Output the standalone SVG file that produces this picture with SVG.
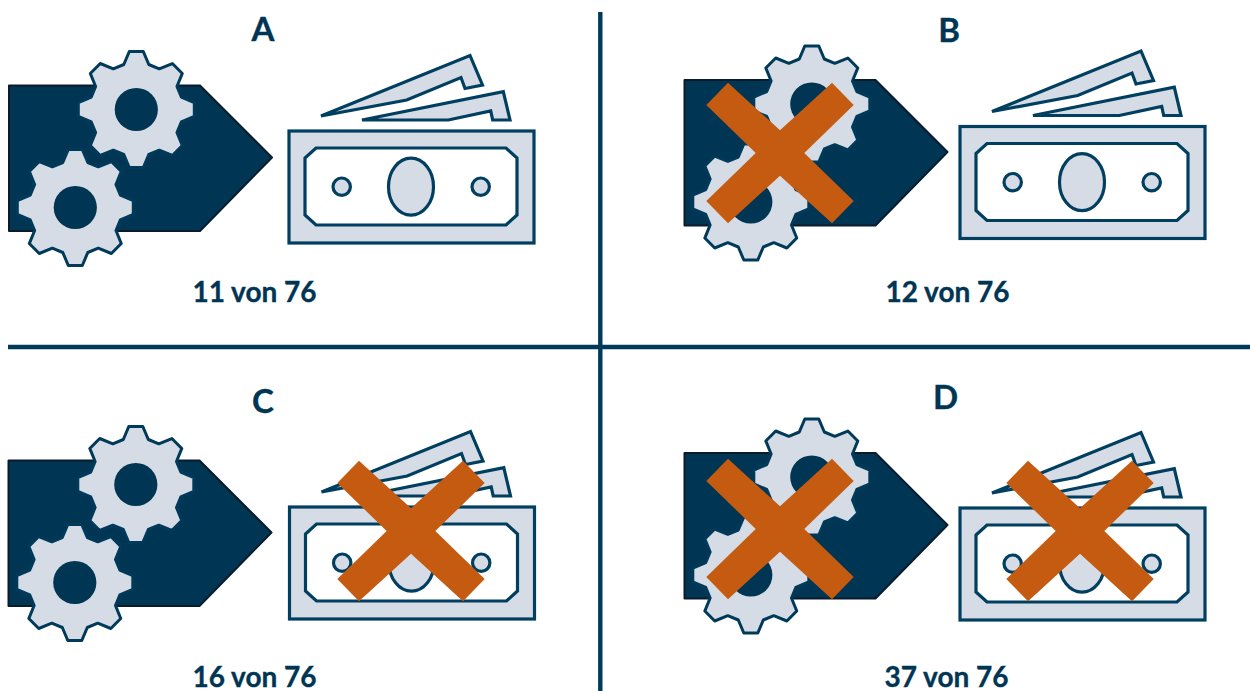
<svg xmlns="http://www.w3.org/2000/svg" xmlns:xlink="http://www.w3.org/1999/xlink" width="1250" height="691" viewBox="0 0 1250 691">
<style>
.t{font-family:Lato,"Open Sans",sans-serif;font-weight:700;fill:#003554;stroke:#003554;stroke-width:.35px;text-anchor:middle}
.h{font-size:33px}.c{font-size:28px}
.pent{fill:#003554;stroke:#0a1c2c;stroke-width:2;stroke-linejoin:round}
.gear{fill:#d6dce5;stroke:#003a5a;stroke-width:3;stroke-linejoin:round}
.hole{fill:#003554}
.m{fill:#d6dce5;stroke:#003f60;stroke-width:3.2}
.w{fill:#fff;stroke:#003f60;stroke-width:3.2}
.x{fill:#c55a11}
.div{stroke:#003a5a;stroke-width:4.400;fill:none}
</style>
<defs>
<g id="gearshape"><polygon class="gear" points="-12.5,-45 -7,-58 7,-58 12.5,-45 22.98,-40.66 36.06,-45.96 46,-36.06 40.66,-22.98 45,-12.5 58,-7 58,7 45,12.5 40.66,22.98 45.96,36.06 36.06,46 22.98,40.66 12.5,45 7,58 -7,58 -12.5,45 -22.98,40.66 -36.06,46 -46,36.06 -40.66,22.98 -45,12.5 -58,7 -58,-7 -45,-12.5 -40.66,-22.98 -46,-36.06 -36.06,-46 -22.98,-40.66"/><circle class="hole" r="21.6"/></g>
<g id="machine"><polygon class="pent" points="9,85.5 200,85.5 272,157.5 200,231 9,231"/><use xlink:href="#gearshape" href="#gearshape" x="136.300" y="109.500"/><use xlink:href="#gearshape" href="#gearshape" x="75.300" y="207.500"/></g>
<g id="money">
<polygon class="m" points="321,116 470,55.5 482.5,85 465,88.5 461,77.5 406.7,100"/>
<polygon class="m" points="362,120 503.3,91.7 510,120 492.7,120 490.7,111 448.3,120"/>
<rect class="m" x="289" y="131" width="245" height="112"/>
<polygon class="w" points="316,148 506,148 517,158 517,215 506,225 316,225 305,215 305,158"/>
<ellipse class="m" cx="411" cy="186.7" rx="22.5" ry="28.5"/>
<circle class="m" cx="341.7" cy="186.7" r="8.7"/>
<circle class="m" cx="480.7" cy="186.7" r="8.7"/>
</g>
<polygon id="cross" class="x" points="-52,-70.3 0,-22.7 52,-70.3 73.7,-48 24.3,0 73.7,48 52,70.3 0,22.7 -52,70.3 -73.7,48 -24.3,0 -73.7,-48"/>
</defs>
<rect width="1250" height="691" fill="#fff"/>
<g id="dividers"><path class="div" d="M600.3 12V691"/><path class="div" d="M8 347H1250"/></g>
<g id="panel-a">
<use xlink:href="#machine" href="#machine"/><use xlink:href="#money" href="#money"/>
<text class="t h" x="263" y="41">A</text><text class="t c" x="254.500" y="301.500">11 von 76</text>
</g>
<g id="panel-b">
<use xlink:href="#machine" href="#machine" transform="translate(675.500,-5.500)"/><use xlink:href="#money" href="#money" transform="translate(671,-4.500)"/>
<use xlink:href="#cross" href="#cross" x="780" y="153"/>
<text class="t h" x="949" y="42">B</text><text class="t c" x="947.500" y="301.500">12 von 76</text>
</g>
<g id="panel-c">
<use xlink:href="#machine" href="#machine" transform="translate(-0.500,375)"/><use xlink:href="#money" href="#money" transform="translate(0.500,376)"/>
<use xlink:href="#cross" href="#cross" x="411" y="531"/>
<text class="t h" x="263" y="413">C</text><text class="t c" x="254.500" y="687">16 von 76</text>
</g>
<g id="panel-d">
<use xlink:href="#machine" href="#machine" transform="translate(675.500,367.500)"/><use xlink:href="#money" href="#money" transform="translate(671,377)"/>
<use xlink:href="#cross" href="#cross" x="780" y="529"/><use xlink:href="#cross" href="#cross" x="1080" y="531"/>
<text class="t h" x="945.500" y="409">D</text><text class="t c" x="946.500" y="687">37 von 76</text>
</g>
</svg>
